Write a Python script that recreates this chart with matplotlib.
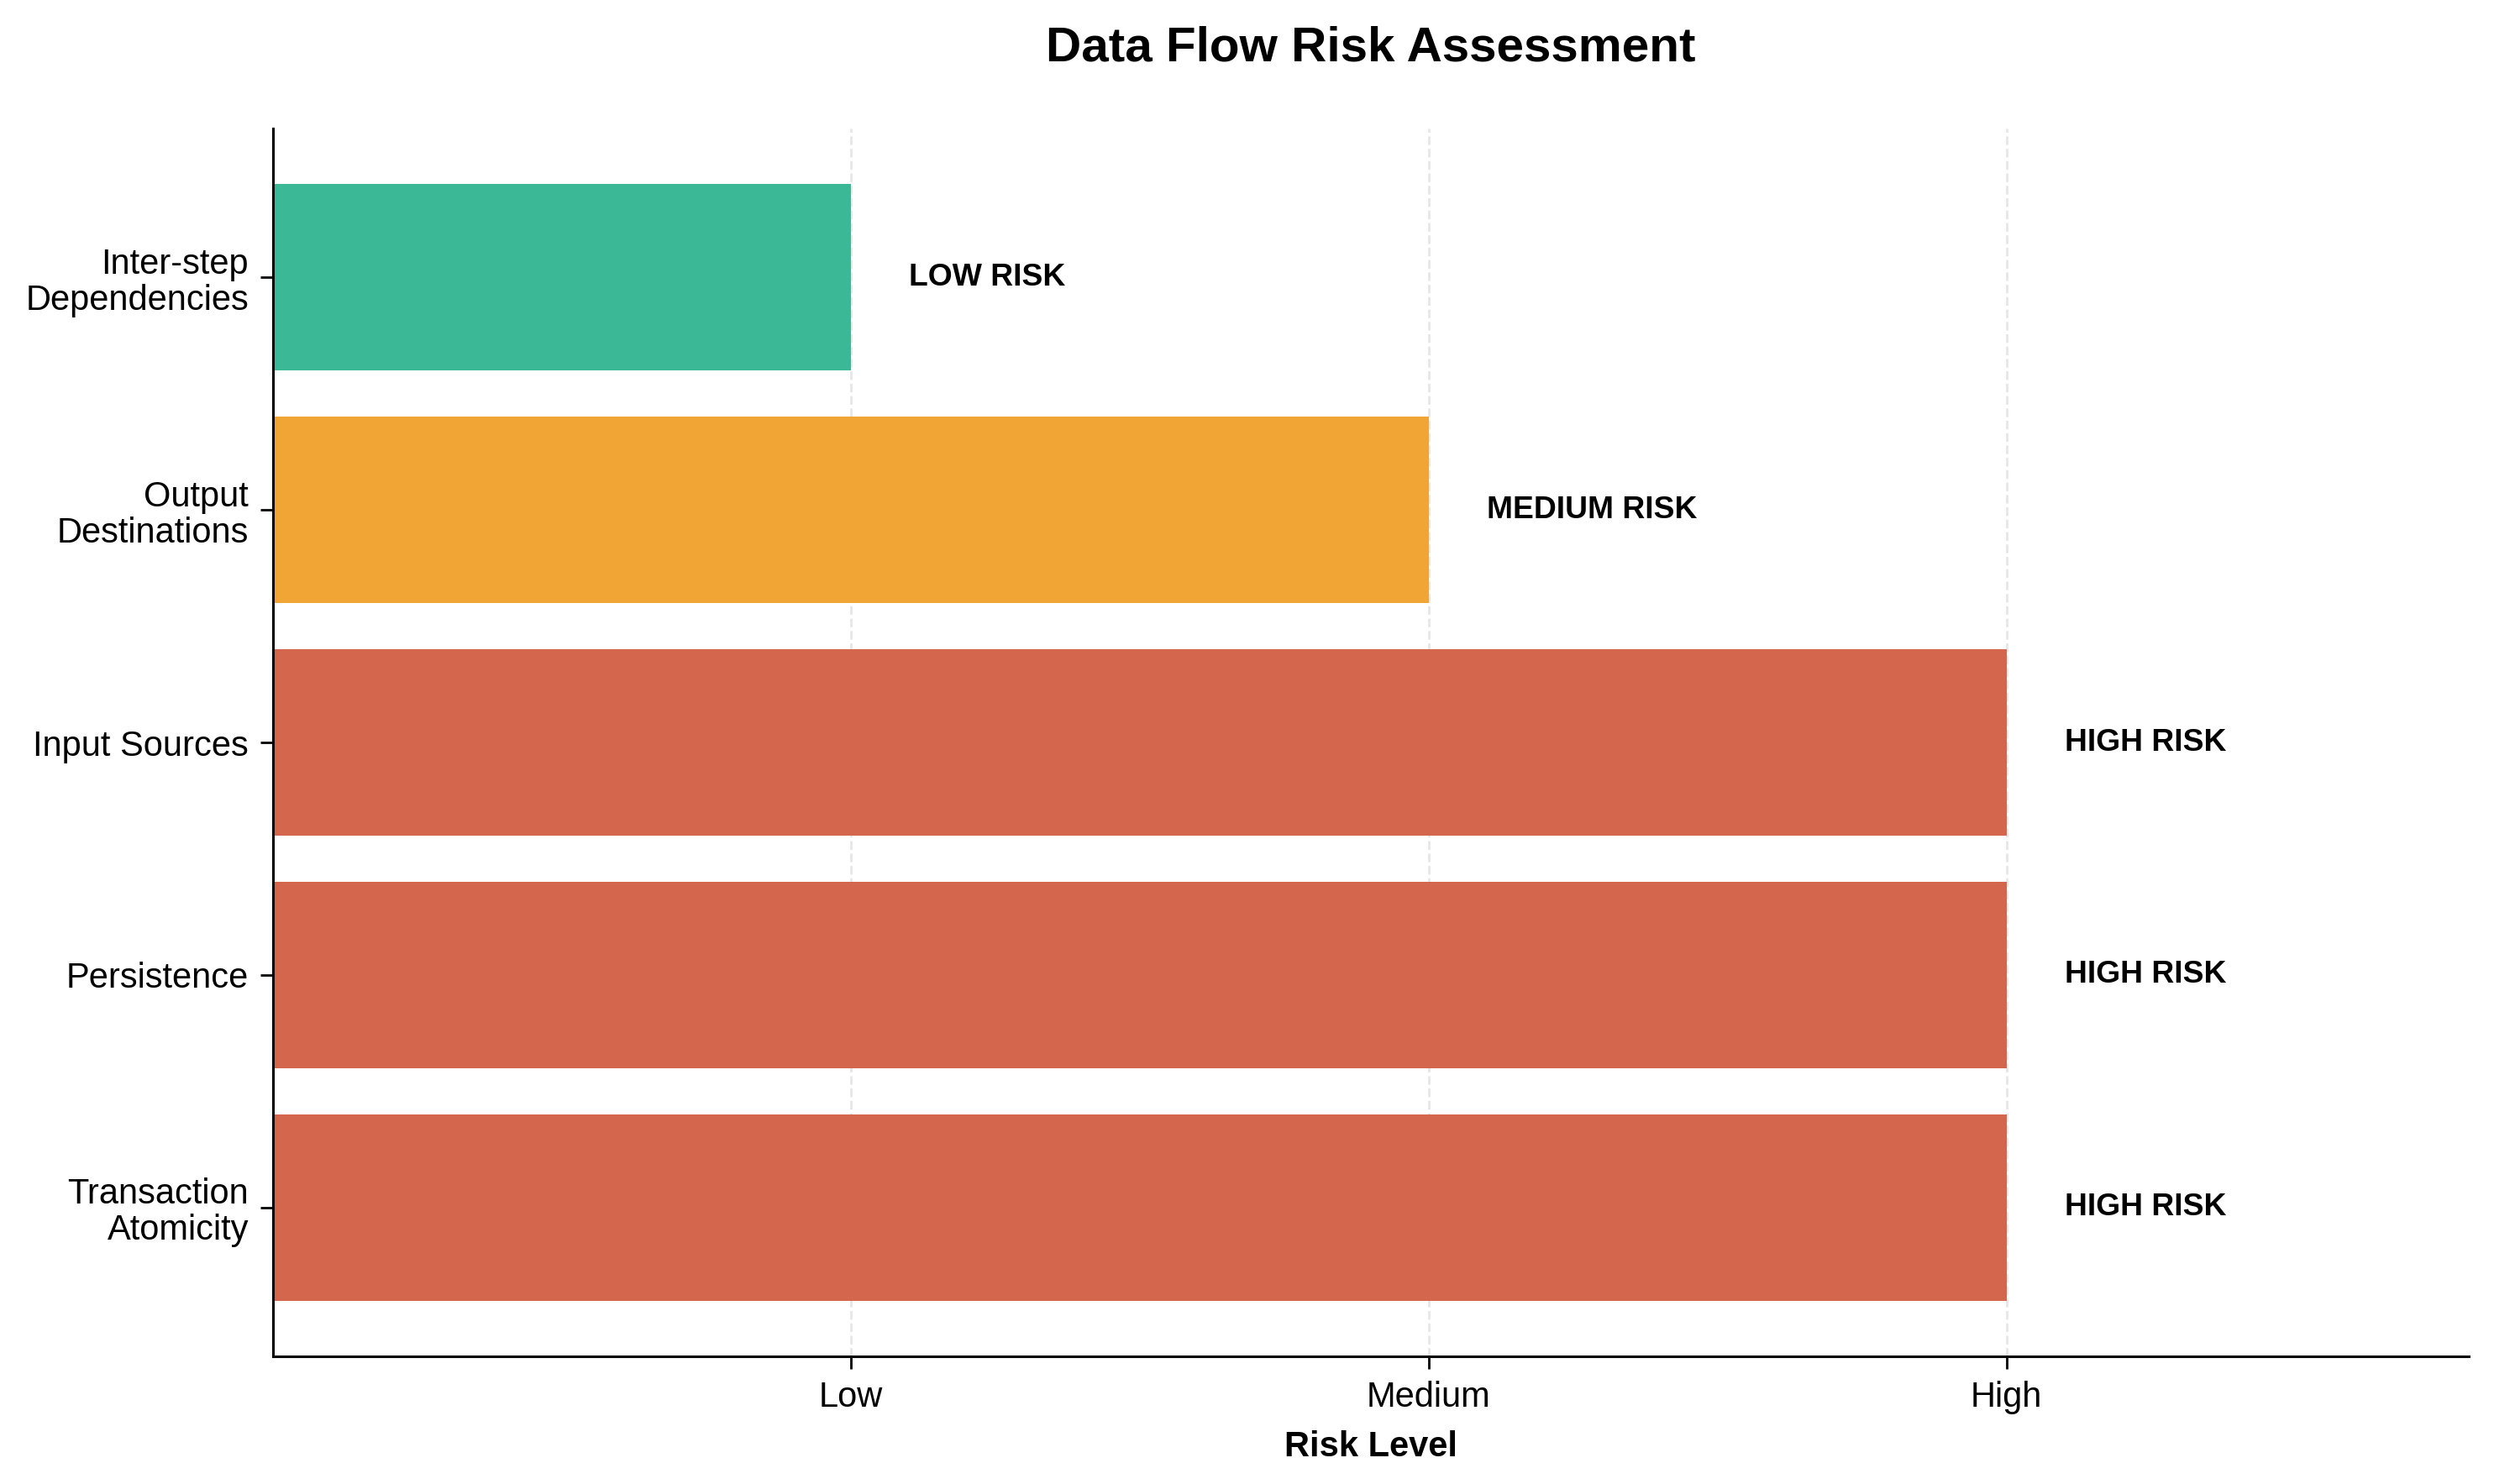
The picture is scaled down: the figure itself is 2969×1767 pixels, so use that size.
import matplotlib
matplotlib.use("Agg")
from matplotlib import pyplot as plt

plt.rcParams['font.family'] = ['Liberation Sans', 'DejaVu Sans']

# data, bottom to top as drawn
categories = ["Transaction\nAtomicity", "Persistence", "Input Sources",
              "Output\nDestinations", "Inter-step\nDependencies"]
risk_scores = [3, 3, 3, 2, 1]
risk_names = ["HIGH RISK", "HIGH RISK", "HIGH RISK", "MEDIUM RISK", "LOW RISK"]
level_ticks = [1, 2, 3]
level_labels = ["Low", "Medium", "High"]

score_colors = {1: "#3BB996", 2: "#F0A535", 3: "#D4664D"}

fig = plt.figure(figsize=(14.845, 8.835), dpi=200)
ax = fig.add_axes([0.1095, 0.086, 0.8804, 0.8274])

ypos = list(range(len(categories)))
ax.barh(ypos, risk_scores, height=0.8,
        color=[score_colors[s] for s in risk_scores], zorder=2)

for y, s, name in zip(ypos, risk_scores, risk_names):
    ax.text(s + 0.1, y, name, ha="left", va="center",
            fontsize=13.4, fontweight="bold", zorder=4)

ax.set_yticks(ypos)
ax.set_yticklabels(categories, fontsize=15, linespacing=1.1)
ax.set_xticks(level_ticks)
ax.set_xticklabels(level_labels, fontsize=15)
ax.set_xlim(0, 3.8)

ax.set_xlabel("Risk Level", fontsize=15, fontweight="bold", labelpad=7)
ax.set_title("Data Flow Risk Assessment", fontsize=21, fontweight="bold", pad=29)

ax.grid(axis="x", linestyle="--", color="#dcdcdc", alpha=0.7, linewidth=1.0, zorder=3)
ax.spines["top"].set_visible(False)
ax.spines["right"].set_visible(False)
for sp in ("left", "bottom"):
    ax.spines[sp].set_linewidth(1.1)
ax.tick_params(axis="both", length=5.4, width=1.0, pad=5)

fig.savefig("out.png", dpi=200)
